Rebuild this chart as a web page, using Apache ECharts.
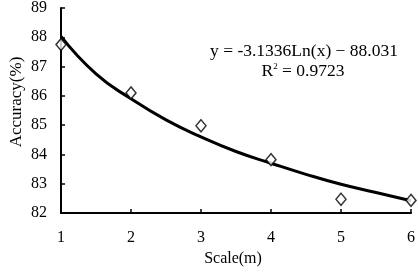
<!DOCTYPE html>
<html>
<head>
<meta charset="utf-8">
<script src="https://cdn.jsdelivr.net/npm/echarts@6/dist/echarts.min.js"></script>
<style>
  html, body { margin: 0; padding: 0; background: #fff; }
  #chart { width: 418px; height: 276px; }
</style>
</head>
<body>
<div id="chart"></div>
<script>
// measured points (scale in m, accuracy in %)
const scales = [1, 2, 3, 4, 5, 6];
const accuracy = [87.75, 86.1, 84.98, 83.82, 82.47, 82.43];

// logarithmic trend line
const trendX = [1, 1.5, 2, 2.5, 3, 3.5, 4, 4.5, 5, 5.5, 6];
const trendY = [88.03, 86.75, 85.9, 85.18, 84.6, 84.1, 83.7, 83.32, 82.98, 82.7, 82.42];

const yTicks = [82, 89];
const equation = 'y = -3.1336Ln(x) \u2212 88.031';
const rSquared = '0.9723';

const font = '"Liberation Serif", "Times New Roman", serif';

const chart = echarts.init(document.getElementById('chart'));
const option = {
  backgroundColor: '#fff',
  animation: false,
  grid: { left: 61, right: 6, top: 6, bottom: 63 },
  xAxis: {
    type: 'value',
    min: 1,
    max: 6,
    interval: 1,
    name: 'Scale(m)',
    nameLocation: 'middle',
    nameGap: 37,
    nameTextStyle: { fontFamily: font, fontSize: 16, color: '#000', padding: [0, 6, 0, 0] },
    axisLine: { show: true, lineStyle: { color: '#000', width: 2 } },
    axisTick: { show: true, inside: true, length: 4, lineStyle: { color: '#000', width: 1.5 } },
    axisLabel: { fontFamily: font, fontSize: 16, color: '#000', margin: 17 },
    splitLine: { show: false }
  },
  yAxis: {
    type: 'value',
    min: yTicks[0],
    max: yTicks[1],
    interval: 1,
    axisLine: { show: true, lineStyle: { color: '#000', width: 2 } },
    axisTick: { show: true, inside: true, length: 4, lineStyle: { color: '#000', width: 1.5 } },
    axisLabel: { fontFamily: font, fontSize: 16, color: '#000', margin: 14 },
    splitLine: { show: false }
  },
  graphic: [
    {
      type: 'text',
      x: 17,
      y: 102,
      rotation: Math.PI / 2,
      style: {
        text: 'Accuracy(%)', font: '17px ' + font, fill: '#000',
        align: 'center', verticalAlign: 'middle'
      }
    },
    {
      type: 'text',
      x: 304,
      y: 51,
      style: {
        text: equation, font: '17.5px ' + font, fill: '#000',
        align: 'center', verticalAlign: 'middle'
      }
    },
    {
      type: 'text',
      x: 303,
      y: 71,
      style: {
        text: 'R{sup|2} = ' + rSquared,
        font: '17.5px ' + font,
        fill: '#000',
        align: 'center', verticalAlign: 'middle',
        rich: { sup: { fontSize: 9, fontFamily: font, verticalAlign: 'top', padding: [0, 0, 8, 0] } }
      }
    }
  ],
  series: [
    {
      type: 'line',
      data: trendX.map((x, i) => [x, trendY[i]]),
      smooth: true,
      showSymbol: false,
      lineStyle: { color: '#000', width: 3 },
      z: 2
    },
    {
      type: 'scatter',
      data: scales.map((x, i) => [x, accuracy[i]]),
      symbol: 'diamond',
      symbolSize: [10, 12],
      itemStyle: { color: '#fff', borderColor: '#000', borderWidth: 1.5 },
      z: 3
    }
  ]
};
chart.setOption(option);
</script>
</body>
</html>
